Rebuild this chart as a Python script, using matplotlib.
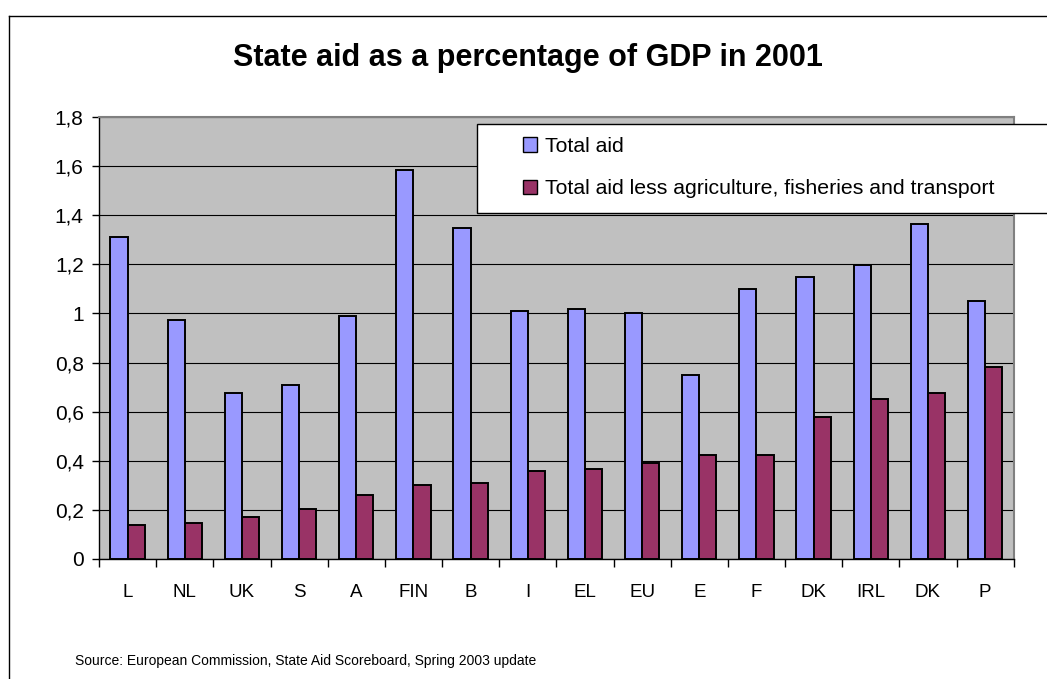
import matplotlib
matplotlib.use("Agg")
import matplotlib.pyplot as plt
import numpy as np
from matplotlib.patches import Rectangle, Patch
from matplotlib.lines import Line2D

plt.rcParams['font.family'] = ['Liberation Sans', 'DejaVu Sans']

countries = ["L", "NL", "UK", "S", "A", "FIN", "B", "I", "EL", "EU",
             "E", "F", "DK", "IRL", "DK", "P"]
total_aid = [1.31, 0.975, 0.675, 0.707, 0.99, 1.585, 1.35, 1.01, 1.017, 1.0,
             0.75, 1.10, 1.148, 1.198, 1.366, 1.05]
aid_less_aft = [0.137, 0.146, 0.170, 0.203, 0.260, 0.300, 0.309, 0.358, 0.366, 0.390,
                0.423, 0.423, 0.577, 0.651, 0.676, 0.782]
series_labels = ["Total aid", "Total aid less agriculture, fisheries and transport"]
series_colors = ["#9999FF", "#993366"]
yticks = [0, 0.2, 0.4, 0.6, 0.8, 1.0, 1.2, 1.4, 1.6, 1.8]
ytick_labels = ["0", "0,2", "0,4", "0,6", "0,8", "1", "1,2", "1,4", "1,6", "1,8"]

W, H = 1047, 679
fig = plt.figure(figsize=(W / 100, H / 100), dpi=100)
fig.patch.set_facecolor("white")

# outer chart frame (runs off the right and bottom edges)
fig.add_artist(Line2D([9 / W, 1.0], [1 - 16 / H, 1 - 16 / H], color="black", lw=1.0,
                      transform=fig.transFigure))
fig.add_artist(Line2D([9 / W, 9 / W], [1 - 16 / H, 0.0], color="black", lw=1.0,
                      transform=fig.transFigure))

left, right, top, bottom = 99, 1013.7, 117.3, 558.7
ax = fig.add_axes([left / W, 1 - bottom / H, (right - left) / W, (bottom - top) / H])
ax.set_facecolor("#C0C0C0")

x = np.arange(len(countries))
bw = 0.3
ax.bar(x - bw / 2, total_aid, width=bw, color=series_colors[0], edgecolor="black",
       linewidth=1.4, zorder=3)
ax.bar(x + bw / 2, aid_less_aft, width=bw, color=series_colors[1], edgecolor="black",
       linewidth=1.4, zorder=3)

ax.set_xlim(-0.5, len(countries) - 0.5)
ax.set_ylim(0, 1.8)
ax.set_yticks(yticks)
ax.set_yticklabels(ytick_labels, fontsize=15)
ax.yaxis.grid(True, color="#000000", lw=0.8, zorder=1)
ax.set_axisbelow(True)

# category labels centred, ticks on category boundaries
ax.set_xticks(np.arange(-0.5, len(countries) + 0.5, 1.0))
ax.set_xticklabels([])
ax.set_xticks(x, minor=True)
ax.set_xticklabels(countries, minor=True, fontsize=13.5)
ax.tick_params(axis="x", which="major", direction="out", length=6, width=1, color="black")
ax.tick_params(axis="x", which="minor", length=0, pad=18)
ax.tick_params(axis="y", direction="out", length=5, width=1, pad=6)

for s in ("left", "bottom"):
    ax.spines[s].set_color("black")
    ax.spines[s].set_linewidth(1.0)
for s in ("top", "right"):
    ax.spines[s].set_color("#808080")
    ax.spines[s].set_linewidth(1.5)

fig.text(528 / W, 1 - 58 / H, "State aid as a percentage of GDP in 2001",
         ha="center", va="center", fontsize=22, fontweight="bold")

# legend box (extends past the right edge)
fig.add_artist(Rectangle((477 / W, 1 - 213 / H), 700 / W, 89 / H, transform=fig.transFigure,
                         facecolor="white", edgecolor="black", lw=1.0, zorder=5))
handles = [Patch(facecolor=c, edgecolor="black", lw=1.0) for c in series_colors]
leg = fig.legend(handles, series_labels, loc="upper left",
                 bbox_to_anchor=(523 / W, 1 - 137 / H), frameon=False, fontsize=15.3,
                 handlelength=0.65, handleheight=0.65, handletextpad=0.4,
                 labelspacing=1.1, borderaxespad=0, borderpad=0)
leg.set_zorder(6)

fig.text(75 / W, 1 - 661 / H,
         "Source: European Commission, State Aid Scoreboard, Spring 2003 update",
         ha="left", va="center", fontsize=10)

fig.savefig("out.png", dpi=100)
